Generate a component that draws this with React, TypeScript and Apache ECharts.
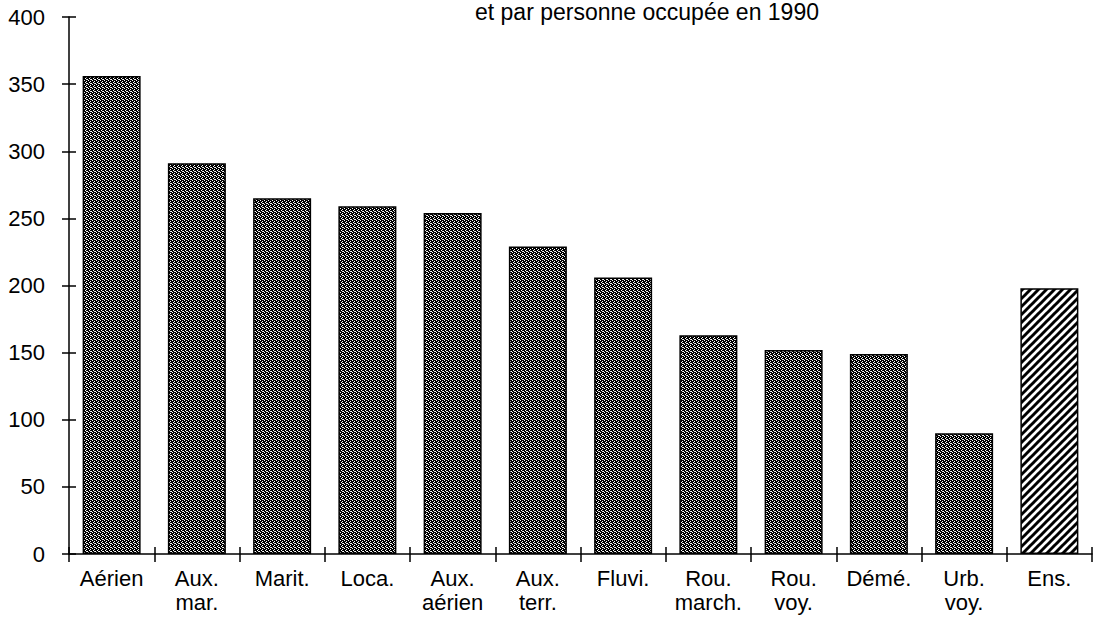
import React, { useEffect, useRef } from "react";
import * as echarts from "echarts";

const categories = [
  "Aérien",
  "Aux.\nmar.",
  "Marit.",
  "Loca.",
  "Aux.\naérien",
  "Aux.\nterr.",
  "Fluvi.",
  "Rou.\nmarch.",
  "Rou.\nvoy.",
  "Démé.",
  "Urb.\nvoy.",
  "Ens.",
];
const values = [356, 291, 265, 259, 254, 229, 206, 163, 152, 149, 90, 198];
const hatchedIndex = 11;
const titleText = "et par personne occupée en 1990";

const FONT = "'Liberation Sans', Arial, Helvetica, sans-serif";

function svgUrl(svg: string) {
  return "data:image/svg+xml;charset=utf-8," + encodeURIComponent(svg);
}

const stippleSvg =
  '<svg xmlns="http://www.w3.org/2000/svg" width="4" height="4" shape-rendering="crispEdges">' +
  '<rect width="4" height="4" fill="#000"/>' +
  '<rect x="0" y="0" width="1" height="1" fill="#fff"/>' +
  '<rect x="2" y="1" width="1" height="1" fill="#fff"/>' +
  '<rect x="1" y="2" width="1" height="1" fill="#fff"/>' +
  '<rect x="3" y="3" width="1" height="1" fill="#fff"/>' +
  '<rect x="2" y="3" width="1" height="1" fill="#ddd"/>' +
  "</svg>";

const hatchSvg =
  '<svg xmlns="http://www.w3.org/2000/svg" width="8" height="8">' +
  '<rect width="8" height="8" fill="#fff"/>' +
  '<g stroke="#000" stroke-width="3" stroke-linecap="square">' +
  '<line x1="0" y1="8" x2="8" y2="0"/>' +
  '<line x1="-1" y1="1" x2="1" y2="-1"/>' +
  '<line x1="7" y1="9" x2="9" y2="7"/>' +
  "</g></svg>";

export default function App() {
  const ref = useRef<HTMLDivElement>(null);

  useEffect(() => {
    if (!ref.current) return;
    const chart = echarts.init(ref.current, undefined, { renderer: "svg" });

    const stipple: any = {
      image: svgUrl(stippleSvg),
      repeat: "repeat",
      imageWidth: 4,
      imageHeight: 4,
    };
    const hatch: any = {
      image: svgUrl(hatchSvg),
      repeat: "repeat",
      imageWidth: 8,
      imageHeight: 8,
    };

    const axisLineStyle = { color: "#000", width: 1.5 };

    chart.setOption({
      animation: false,
      backgroundColor: "#fff",
      textStyle: { fontFamily: FONT },
      graphic: [
        {
          type: "text",
          x: 647,
          y: 0,
          style: {
            text: titleText,
            align: "center",
            verticalAlign: "top",
            fontSize: 23,
            fontFamily: FONT,
            fill: "#000",
          },
        },
      ],
      grid: { left: 69, right: 2, top: 17, bottom: 75, containLabel: false },
      xAxis: [
        {
          type: "category",
          data: categories,
          axisLine: { show: true, lineStyle: axisLineStyle },
          axisTick: { show: true, length: 8, interval: 0, lineStyle: axisLineStyle },
          axisLabel: {
            interval: 0,
            color: "#000",
            fontSize: 22,
            lineHeight: 24,
            margin: 12,
            fontFamily: FONT,
          },
        },
        {
          type: "category",
          data: categories,
          position: "bottom",
          axisLine: { show: false },
          axisTick: {
            show: true,
            inside: true,
            length: 7,
            interval: 0,
            lineStyle: axisLineStyle,
          },
          axisLabel: { show: false },
        },
      ],
      yAxis: [
        {
          type: "value",
          min: 0,
          max: 400,
          interval: 50,
          axisLine: { show: true, lineStyle: axisLineStyle },
          axisTick: { show: true, length: 7, lineStyle: axisLineStyle },
          splitLine: { show: false },
          axisLabel: {
            color: "#000",
            fontSize: 22,
            margin: 24,
            fontFamily: FONT,
          },
        },
        {
          type: "value",
          min: 0,
          max: 400,
          interval: 50,
          position: "left",
          axisLine: { show: false },
          axisTick: { show: true, inside: true, length: 7, lineStyle: axisLineStyle },
          splitLine: { show: false },
          axisLabel: { show: false },
        },
      ],
      series: [
        {
          type: "bar",
          xAxisIndex: 0,
          yAxisIndex: 0,
          barWidth: 58,
          data: values.map((v, i) => ({
            value: v,
            itemStyle: {
              color: i === hatchedIndex ? hatch : stipple,
              borderColor: "#000",
              borderWidth: 1.5,
            },
          })),
        },
      ],
    });

    return () => chart.dispose();
  }, []);

  return (
    <div
      ref={ref}
      style={{ position: "fixed", left: 0, top: 0, width: 1094, height: 629 }}
    />
  );
}
